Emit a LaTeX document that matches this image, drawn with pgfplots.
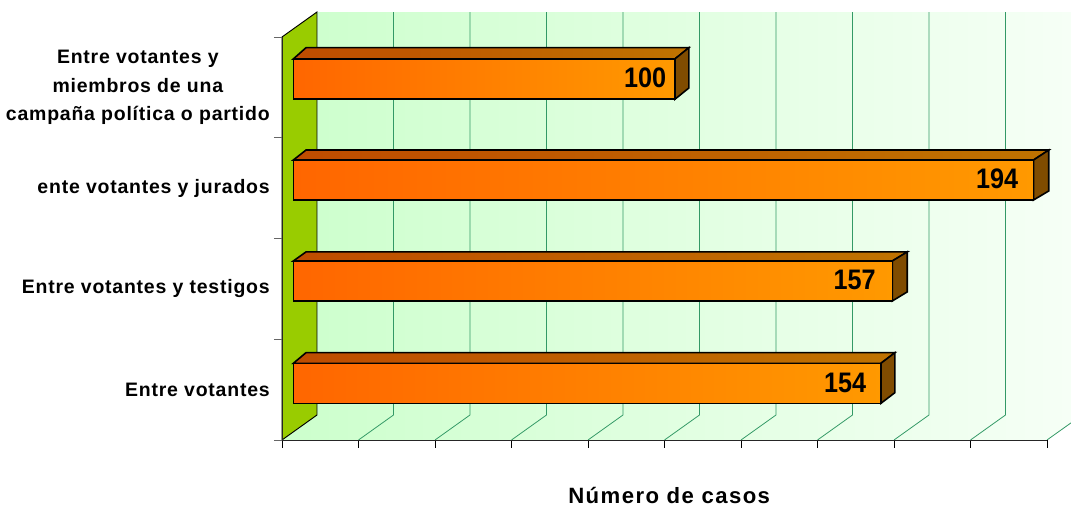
\documentclass[border=0pt]{standalone}
\usepackage{fontspec}
\usepackage{pgfplots}
\pgfplotsset{compat=1.18}
\setmainfont{Liberation Sans}
\newfontfamily\tracked[LetterSpace=4]{Liberation Sans}
\newfontfamily\trackedwide[LetterSpace=6.5]{Liberation Sans}

\definecolor{wallgreen}{HTML}{99CC00}
\definecolor{gridgreen}{HTML}{339966}
\definecolor{wallleft}{HTML}{CCFFCC}
\definecolor{wallright}{HTML}{F6FFF6}
\definecolor{barleft}{HTML}{FF6600}
\definecolor{barright}{HTML}{FF9900}
\definecolor{topleft}{HTML}{BF4C00}
\definecolor{topright}{HTML}{BF7300}
\definecolor{barside}{HTML}{804C00}

\pgfplotsset{
  gridline/.style={gridgreen, line width=0.6pt, forget plot},
  topface/.style={xshift=8.5pt, draw=black, line width=1.2pt, line join=miter,
    left color=topleft, right color=topright},
  sideface/.style={xshift=8.5pt, draw=black, line width=1.2pt, line join=miter, fill=barside},
  frontface/.style 2 args={xbar, bar width=30pt, bar shift=#1, xshift=8.5pt, draw=black, line width=1.2pt,
    left color=barleft, right color=barright, point meta=x,
    nodes near coords={\pgfmathprintnumber[assume math mode=true]{\pgfplotspointmeta}},
    every node near coord/.append style={yshift=#1, xshift=#2}},
}

\begin{document}
\begin{tikzpicture}
% 1 px of the reference = 0.75pt, axis origin at px (282,440)
\useasboundingbox (-211.5pt,-49.5pt) rectangle (591.75pt,330pt);
\begin{axis}[
  at={(0,0)}, anchor=south west,
  scale only axis, width=573.75pt, height=302.25pt,
  xmin=0, xmax=200.5, ymin=-0.5, ymax=3.5,
  clip=false, axis on top=true,
  axis x line=bottom, axis y line=left,
  axis line style={-, black!85, line width=0.7pt},
  xtick={0,20.05,40.1,60.15,80.2,100.25,120.3,140.35,160.4,180.45,200.5},
  xticklabels={},
  x tick style={black, line width=0.7pt},
  tick align=outside, major tick length=6pt,
  ytick={0,1,2,3},
  yticklabels={Entre votantes,Entre votantes y testigos,ente votantes y jurados,
    {Entre votantes y\\miembros de una\\campaña política o partido}},
  y tick label style={font=\tracked\bfseries\fontsize{14.6pt}{21.2pt}\selectfont,
    align=center, inner sep=0pt, xshift=-3pt},
  y tick style={draw=none},
  extra y ticks={-0.5,0.5,1.5,2.5,3.5},
  extra y tick labels={},
  extra y tick style={y tick style={draw=black!60, line width=0.7pt}},
  xlabel={Número de casos},
  xlabel style={font=\trackedwide\bfseries\fontsize{16.6pt}{18pt}\selectfont, inner sep=0pt,
    at={(axis description cs:0.5,0)}, anchor=center, yshift=-41.5pt, xshift=3.5pt},
  nodes near coords style={font=\bfseries\fontsize{18.9pt}{20pt}\selectfont,
    anchor=east, inner sep=0pt, yscale=1.12, black},
]
% back wall and floor
\addplot[draw=none, left color=wallleft, right color=wallright]
  coordinates {(0,-0.5)(200.5,-0.5)(206.79,-0.33)(206.79,3.748)(9.17,3.748)(9.17,-0.252)} --cycle;
% grid lines, floor then wall
\addplot[gridline] coordinates {(20.05,-0.5)(29.22,-0.252)(29.22,3.748)};
\addplot[gridline] coordinates {(40.1,-0.5)(49.27,-0.252)(49.27,3.748)};
\addplot[gridline] coordinates {(60.15,-0.5)(69.32,-0.252)(69.32,3.748)};
\addplot[gridline] coordinates {(80.2,-0.5)(89.37,-0.252)(89.37,3.748)};
\addplot[gridline] coordinates {(100.25,-0.5)(109.42,-0.252)(109.42,3.748)};
\addplot[gridline] coordinates {(120.3,-0.5)(129.47,-0.252)(129.47,3.748)};
\addplot[gridline] coordinates {(140.35,-0.5)(149.52,-0.252)(149.52,3.748)};
\addplot[gridline] coordinates {(160.4,-0.5)(169.57,-0.252)(169.57,3.748)};
\addplot[gridline] coordinates {(180.45,-0.5)(189.62,-0.252)(189.62,3.748)};
\addplot[gridline] coordinates {(200.5,-0.5)(206.79,-0.33)};
% green side wall
\addplot[fill=wallgreen, draw=black, line width=0.7pt]
  coordinates {(0,-0.5)(9.17,-0.252)(9.17,3.748)(0,3.5)} --cycle;

% top faces
\addplot[topface] coordinates {(0,0.261)(3.33,0.367)(157.67,0.367)(154,0.261)} --cycle;
\addplot[topface] coordinates {(0,1.277)(3.33,1.367)(160.9,1.367)(157,1.277)} --cycle;
\addplot[topface] coordinates {(0,2.279)(3.33,2.378)(198,2.378)(194,2.279)} --cycle;
\addplot[topface] coordinates {(0,3.282)(3.33,3.394)(103.67,3.394)(100,3.282)} --cycle;
% side faces
\addplot[sideface] coordinates {(154,0.261)(157.67,0.367)(157.67,-0.03)(154,-0.136)} --cycle;
\addplot[sideface] coordinates {(157,1.277)(160.9,1.367)(160.9,0.97)(157,0.880)} --cycle;
\addplot[sideface] coordinates {(194,2.279)(198,2.378)(198,1.972)(194,1.882)} --cycle;
\addplot[sideface] coordinates {(100,3.282)(103.67,3.394)(103.67,2.994)(100,2.882)} --cycle;
% front faces with the values
\addplot[frontface={4.7pt}{-10.5pt}] coordinates {(154,0)};
\addplot[frontface={6pt}{-12pt}] coordinates {(157,1)};
\addplot[frontface={6.3pt}{-11pt}] coordinates {(194,2)};
\addplot[frontface={6.3pt}{-6pt}] coordinates {(100,3)};
\end{axis}
\end{tikzpicture}
\end{document}
